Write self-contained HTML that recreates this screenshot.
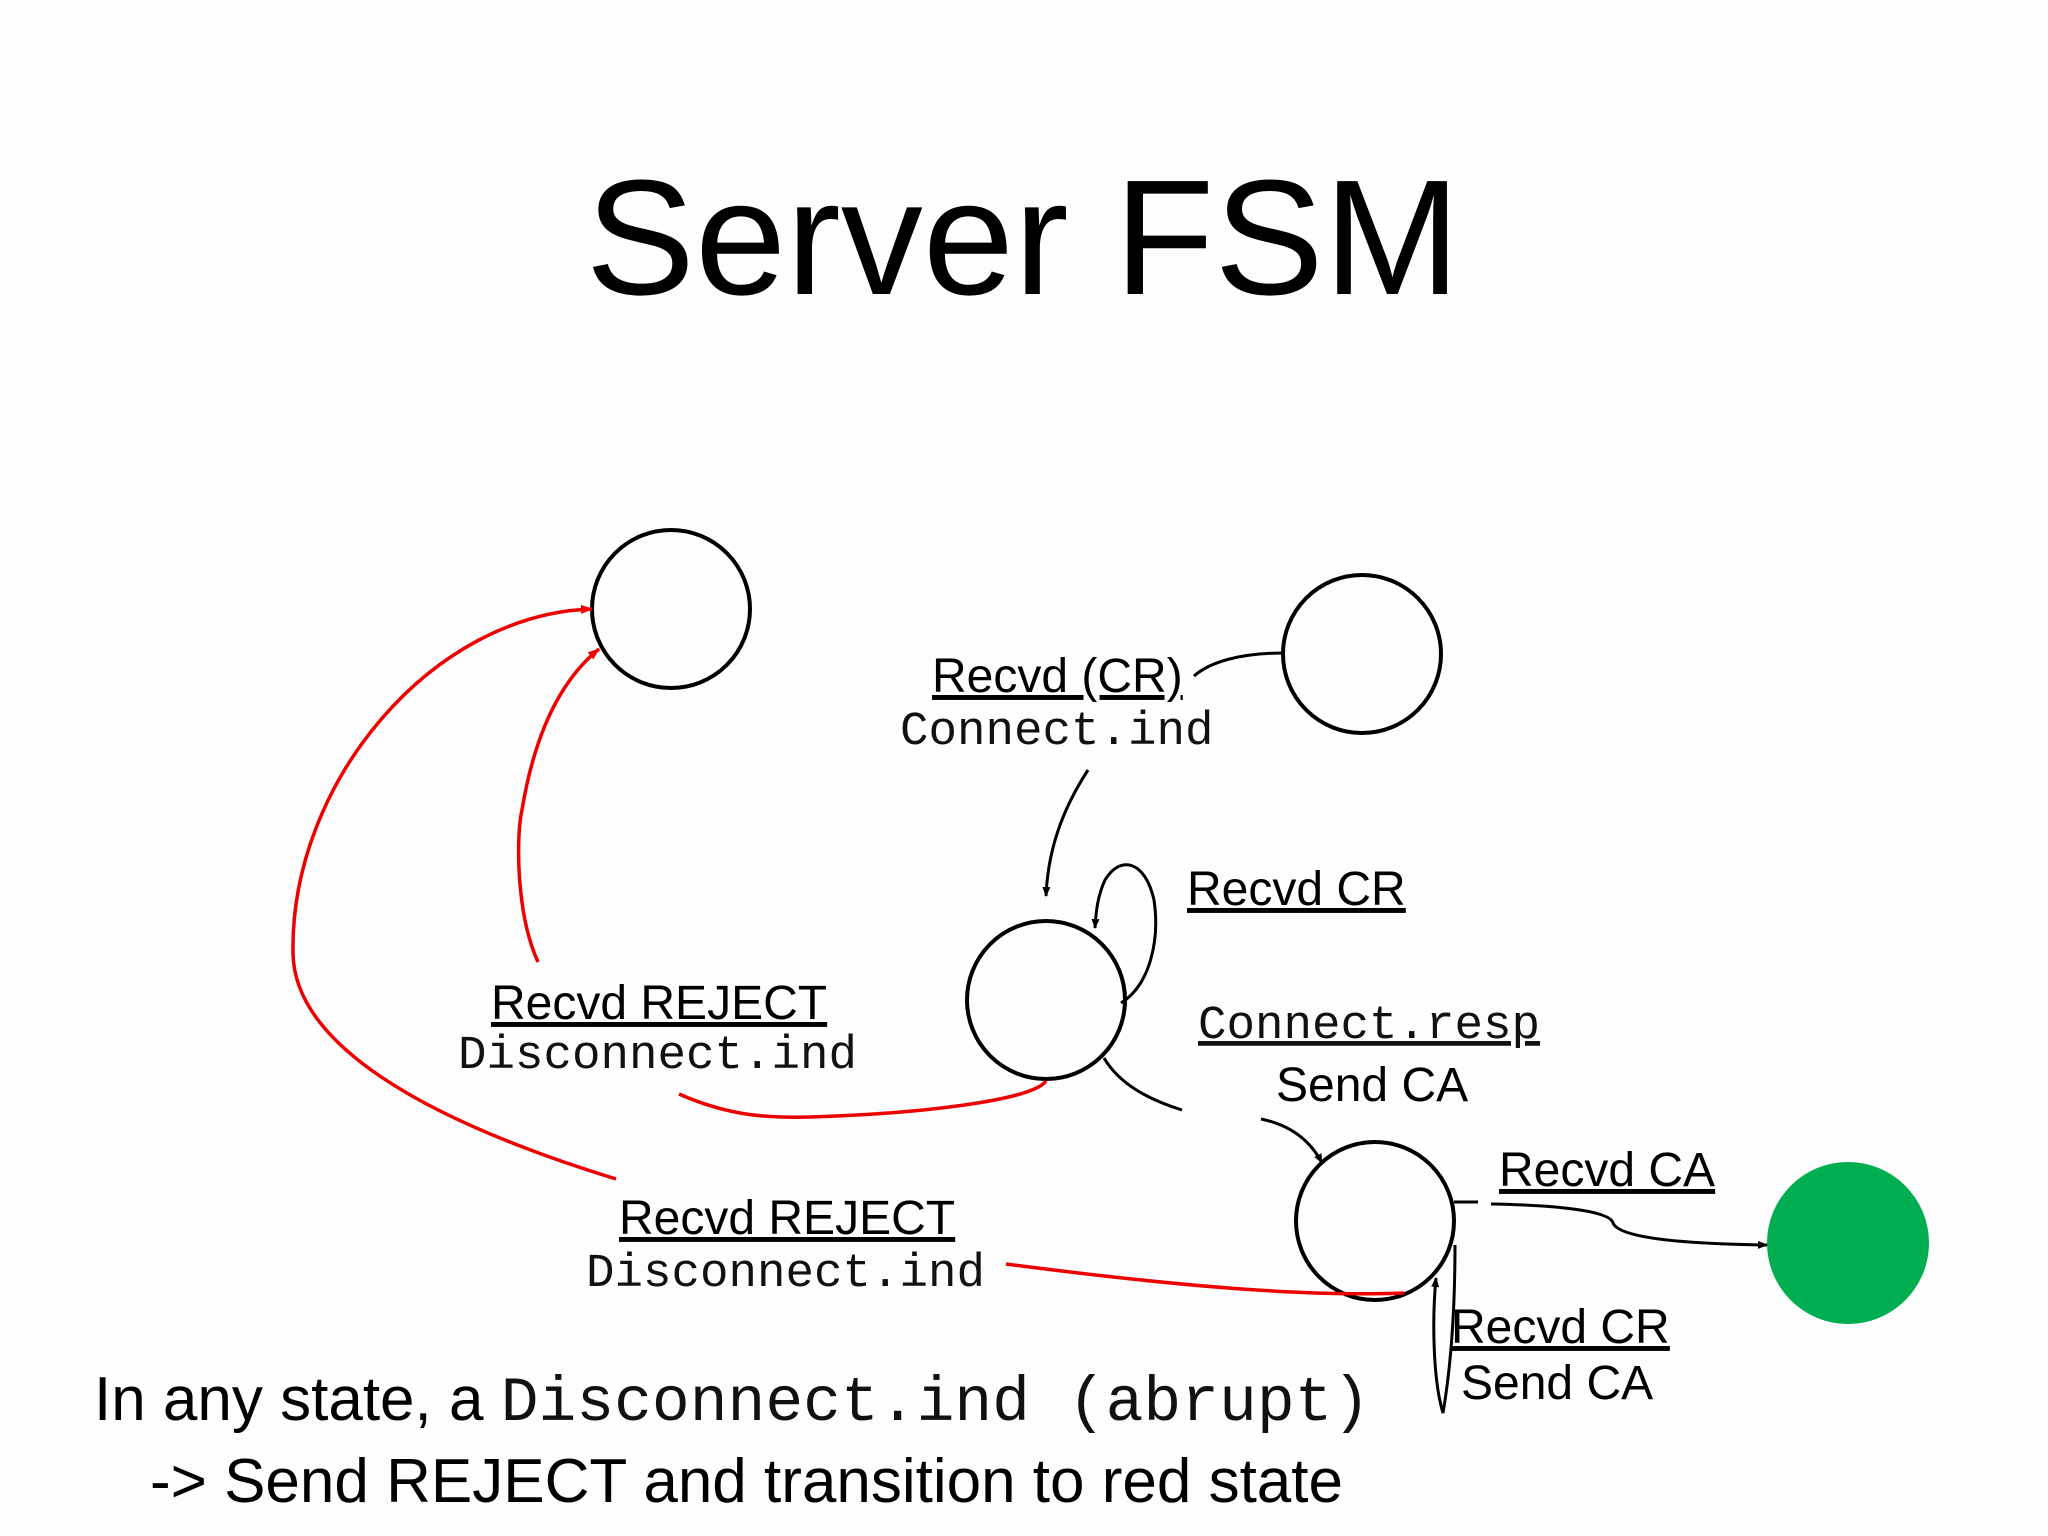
<!DOCTYPE html>
<html><head><meta charset="utf-8"><style>
html,body{margin:0;padding:0;background:#fdfdfd;}
svg{display:block}
.s{font-family:"Liberation Sans",Arial,sans-serif;fill:#000}
.m{font-family:"Liberation Mono","Courier New",monospace;fill:#111}
</style></head><body>
<svg width="2048" height="1536" viewBox="0 0 2048 1536" xmlns="http://www.w3.org/2000/svg">
<defs>
<marker id="ab" markerWidth="10" markerHeight="8" refX="9" refY="4" orient="auto" markerUnits="userSpaceOnUse"><path d="M0,0 L10,4 L0,8 z" fill="#000"/></marker>
<marker id="ar" markerWidth="12" markerHeight="9" refX="11" refY="4.5" orient="auto" markerUnits="userSpaceOnUse"><path d="M0,0 L12,4.5 L0,9 z" fill="#e00"/></marker>
</defs>
<rect width="2048" height="1536" fill="#fdfdfd"/>
<text x="1023" y="294" text-anchor="middle" class="s" font-size="164">Server FSM</text>

<g fill="none" stroke="#000" stroke-width="4">
<circle cx="671" cy="609" r="79"/>
<circle cx="1362" cy="654" r="79"/>
<circle cx="1046" cy="1000" r="79"/>
<circle cx="1375" cy="1221" r="79"/>
</g>
<circle cx="1848" cy="1243" r="81" fill="#00ad50"/>

<g fill="none" stroke="#e00" stroke-width="3.5">
<path d="M616,1179 C392,1110 294,1032 293,953 C290,784 431,614 592,609" marker-end="url(#ar)"/>
<path d="M538,962 C516,914 516,836 522,810 C535,731 562,679 599,649" marker-end="url(#ar)"/>
<path d="M679,1094 C731,1117 771,1118 810,1117 C914,1114 1032,1101 1046,1081"/>
<path d="M1006,1264 C1175,1286 1306,1297 1404,1293"/>
</g>

<g fill="none" stroke="#000" stroke-width="3">
<path d="M1284,653 C1240,653 1210,662 1194,676"/>
<path d="M1088,770 C1062,810 1048,850 1046,896" marker-end="url(#ab)"/>
<path d="M1121,1003 C1150,985 1160,940 1154,900 C1145,860 1120,855 1105,880 C1098,895 1096,910 1095,928" marker-end="url(#ab)"/>
<path d="M1104,1058 C1120,1085 1150,1100 1182,1110"/>
<path d="M1261,1119 C1290,1125 1310,1140 1322,1163" marker-end="url(#ab)"/>
<path d="M1454,1202 L1478,1202"/>
<path d="M1491,1204 C1550,1205 1610,1210 1613,1223 C1620,1240 1700,1244 1767,1245" marker-end="url(#ab)"/>
<path d="M1455,1245 C1455,1300 1452,1360 1443,1413 C1433,1380 1432,1320 1436,1278" marker-end="url(#ab)"/>
</g>

<g class="s" font-size="48" text-decoration="underline">
<text x="932" y="692" text-decoration="underline">Recvd (CR)</text>
<text x="1187" y="905" text-decoration="underline">Recvd CR</text>
<text x="491" y="1019" text-decoration="underline">Recvd REJECT</text>
<text x="1499" y="1186" text-decoration="underline">Recvd CA</text>
<text x="619" y="1234" text-decoration="underline">Recvd REJECT</text>
<text x="1451" y="1343" text-decoration="underline">Recvd CR</text>
</g>
<g class="s" font-size="48">
<text x="1276" y="1101">Send CA</text>
<text x="1461" y="1399">Send CA</text>
</g>
<g class="m" font-size="47.5">
<text x="900" y="744">Connect.ind</text>
<text x="1198" y="1038" text-decoration="underline">Connect.resp</text>
<text x="458" y="1068">Disconnect.ind</text>
<text x="586" y="1286">Disconnect.ind</text>
</g>
<text x="94" y="1420" class="s" font-size="62">In any state, a <tspan class="m" font-size="63">Disconnect.ind (abrupt)</tspan></text>
<text x="150" y="1502" class="s" font-size="62">-&gt; Send REJECT and transition to red state</text>
</svg>
</body></html>
